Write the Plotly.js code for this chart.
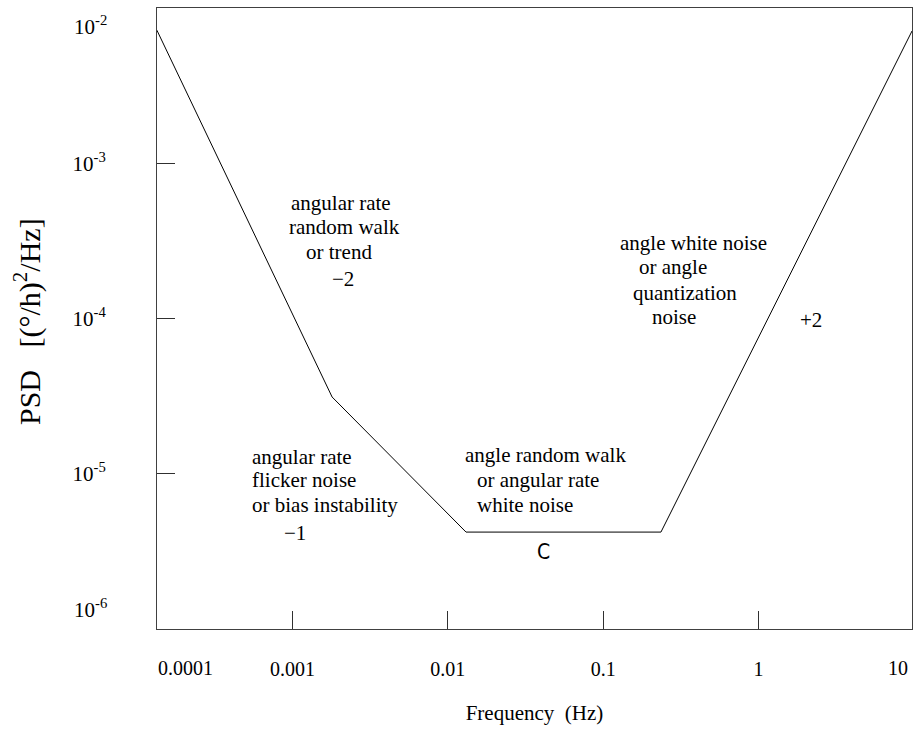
<!DOCTYPE html>
<html>
<head>
<meta charset="utf-8">
<script src="https://cdn.plot.ly/plotly-3.0.1.min.js"></script>
<style>html,body{margin:0;padding:0;background:#fff;}#chart{width:917px;height:730px;}</style>
</head>
<body>
<div id="chart"></div>
<script>
// Data (vertices of the piecewise PSD curve)
const freq = [1.34e-4, 1.80e-3, 0.0131, 0.2355, 9.73];
const psd  = [7.2e-3, 3.12e-5, 4.21e-6, 4.21e-6, 7.11e-3];

const xTickVals = [0.001, 0.01, 0.1, 1];
const xTickText = ['0.001', '0.01', '0.1', '1'];
const yTickVals = [1e-5, 1e-4, 1e-3];
const yTickExp  = ['-5', '-4', '-3'];

// Edge labels of the axes
const xEdgeLabels = ['0.0001', '10'];
const yEdgeExp = ['-2', '-6'];

// Region labels: [text, left-x px, center-y px]
const regionLabels = [
  ['angular rate', 289, 203], ['random walk', 287, 227], ['or trend', 304, 252], ['\u22122', 330, 279],
  ['angular rate', 250, 457], ['flicker noise', 250, 480], ['or bias instability', 250, 505], ['\u22121', 282, 533],
  ['angle random walk', 463, 455], ['or angular rate', 475, 480], ['white noise', 475, 505],
  ['angle white noise', 618, 243], ['or angle', 637, 267], ['quantization', 631, 293], ['noise', 650, 317], ['+2', 798, 320]
];

const W = 917, H = 730;
const L = 157, R = 912, T = 8, B = 629;
const px = x => (x - L) / (R - L);
const py = y => (B - y) / (B - T);

const serif = 'Liberation Serif, Times New Roman, serif';
const supTxt = e => '10<sup>' + e + '</sup>';

const annotations = [];
regionLabels.forEach(([t, x, y]) => annotations.push({
  text: t, xref: 'paper', yref: 'paper', x: px(x), y: py(y),
  xanchor: 'left', yanchor: 'middle', showarrow: false,
  font: {family: serif, size: 21, color: '#000'}
}));
annotations.push({text: 'C', xref: 'paper', yref: 'paper', x: px(543), y: py(552),
  xanchor: 'center', yanchor: 'middle', showarrow: false,
  font: {family: 'Liberation Sans Narrow, DejaVu Sans Condensed, sans-serif', size: 21, color: '#000'}});
// x edge tick labels
annotations.push({text: xEdgeLabels[0], xref: 'paper', yref: 'paper', x: px(185), y: py(668),
  xanchor: 'center', yanchor: 'middle', showarrow: false, font: {family: serif, size: 20, color: '#000'}});
annotations.push({text: xEdgeLabels[1], xref: 'paper', yref: 'paper', x: px(898), y: py(668),
  xanchor: 'center', yanchor: 'middle', showarrow: false, font: {family: serif, size: 20, color: '#000'}});
// y edge tick labels
annotations.push({text: supTxt(yEdgeExp[0]), xref: 'paper', yref: 'paper', x: px(109), y: py(25),
  xanchor: 'right', yanchor: 'middle', showarrow: false, font: {family: serif, size: 21, color: '#000'}});
annotations.push({text: supTxt(yEdgeExp[1]), xref: 'paper', yref: 'paper', x: px(109), y: py(608),
  xanchor: 'right', yanchor: 'middle', showarrow: false, font: {family: serif, size: 21, color: '#000'}});
// y title
annotations.push({text: 'PSD\u00A0\u00A0\u00A0[(\u00B0/h)<sup>2</sup>/Hz]', xref: 'paper', yref: 'paper',
  x: px(27), y: py(322), xanchor: 'center', yanchor: 'middle', textangle: -90, showarrow: false,
  font: {family: serif, size: 30, color: '#000'}});

const trace = {
  x: freq, y: psd, type: 'scatter', mode: 'lines',
  line: {color: '#000', width: 1}, hoverinfo: 'x+y', showlegend: false
};

const layout = {
  width: W, height: H,
  margin: {l: L, r: W - R, t: T, b: H - B, pad: 0},
  paper_bgcolor: '#fff', plot_bgcolor: '#fff',
  showlegend: false,
  xaxis: {
    type: 'log', range: [-3.872, 0.988],
    tickmode: 'array', tickvals: xTickVals, ticktext: xTickText,
    ticks: 'inside', ticklen: 18, tickwidth: 1, tickcolor: '#303030',
    showline: true, linecolor: '#404040', linewidth: 1, mirror: true,
    showgrid: false, zeroline: false,
    ticklabelstandoff: 22,
    tickfont: {family: serif, size: 20, color: '#000'},
    title: {text: 'Frequency\u00A0\u00A0(Hz)', font: {family: serif, size: 21, color: '#000'}, standoff: 26}
  },
  yaxis: {
    type: 'log', range: [-6, -2],
    tickmode: 'array', tickvals: yTickVals, ticktext: yTickExp.map(supTxt),
    ticks: 'inside', ticklen: 18, tickwidth: 1, tickcolor: '#303030',
    showline: true, linecolor: '#404040', linewidth: 1, mirror: true,
    showgrid: false, zeroline: false,
    ticklabelstandoff: 46,
    tickfont: {family: serif, size: 21, color: '#000'}
  },
  annotations: annotations
};

Plotly.newPlot('chart', [trace], layout, {displayModeBar: false, staticPlot: true});
</script>
</body>
</html>
